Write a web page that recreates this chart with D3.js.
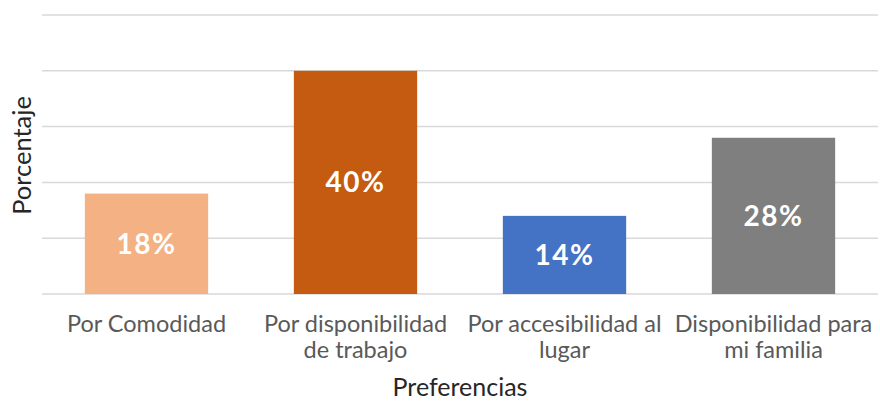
<!DOCTYPE html>
<html lang="es">
<head>
<meta charset="UTF-8">
<title>Preferencias</title>
<script src="https://d3js.org/d3.v7.min.js"></script>
<style>
    html, body {margin: 0; padding: 0; background: #fff; overflow: hidden}
    text {font-family: Lato, 'Open Sans', sans-serif}
</style>
</head>
<body>
<svg id="chart" width="880" height="401"></svg>
<script>
// datos
const categorias = [
    ["Por Comodidad"],
    ["Por disponibilidad", "de trabajo"],
    ["Por accesibilidad al", "lugar"],
    ["Disponibilidad para", "mi familia"]
];
const valores = [18, 40, 14, 28];
const colores = ["#f4b183", "#c55a11", "#4472c4", "#7f7f7f"];
const ticksY = [0, 10, 20, 30, 40, 50];

const svg = d3.select("#chart");
const mIzq = 42, mDer = 878, mSup = 15, mInf = 294;

const x = d3.scaleBand()
    .domain(d3.range(valores.length))
    .range([mIzq, mDer])
    .paddingInner(0.41)
    .paddingOuter(0.205);

const y = d3.scaleLinear().domain([0, 50]).range([mInf, mSup]);

// grilla
svg.append("g")
    .selectAll("line")
    .data(ticksY)
    .join("line")
    .attr("x1", mIzq).attr("x2", mDer)
    .attr("y1", d => y(d)).attr("y2", d => y(d))
    .attr("stroke", "#d9d9d9")
    .attr("stroke-width", 1.5);

// barras
svg.append("g")
    .selectAll("rect")
    .data(valores)
    .join("rect")
    .attr("x", (d, i) => x(i))
    .attr("width", x.bandwidth())
    .attr("y", d => y(d))
    .attr("height", d => y(0) - y(d))
    .attr("fill", (d, i) => colores[i]);

// etiquetas de valor
svg.append("g")
    .selectAll("text")
    .data(valores)
    .join("text")
    .attr("x", (d, i) => x(i) + x.bandwidth() / 2)
    .attr("y", d => (y(d) + y(0)) / 2 + 10)
    .attr("text-anchor", "middle")
    .attr("fill", "#fff")
    .attr("font-size", 28)
    .attr("font-weight", "bold")
    .style("letter-spacing", "1.5px")
    .text(d => d + "%");

// eje x
const ejeX = svg.append("g")
    .selectAll("text")
    .data(categorias)
    .join("text")
    .attr("x", (d, i) => x(i) + x.bandwidth() / 2)
    .attr("y", 332)
    .attr("text-anchor", "middle")
    .attr("fill", "#595959")
    .attr("font-size", 23.5);
ejeX.selectAll("tspan")
    .data(d => d)
    .join("tspan")
    .attr("x", function () { return d3.select(this.parentNode).attr("x"); })
    .attr("dy", (d, i) => i ? 26 : 0)
    .text(d => d);

// títulos
svg.append("text")
    .attr("x", (mIzq + mDer) / 2)
    .attr("y", 396)
    .attr("text-anchor", "middle")
    .attr("fill", "#262626")
    .attr("font-size", 25)
    .text("Preferencias");

svg.append("text")
    .attr("transform", "translate(31," + ((mSup + mInf) / 2 + 1) + ") rotate(-90)")
    .attr("text-anchor", "middle")
    .attr("fill", "#262626")
    .attr("font-size", 25.5)
    .text("Porcentaje");
</script>
</body>
</html>
